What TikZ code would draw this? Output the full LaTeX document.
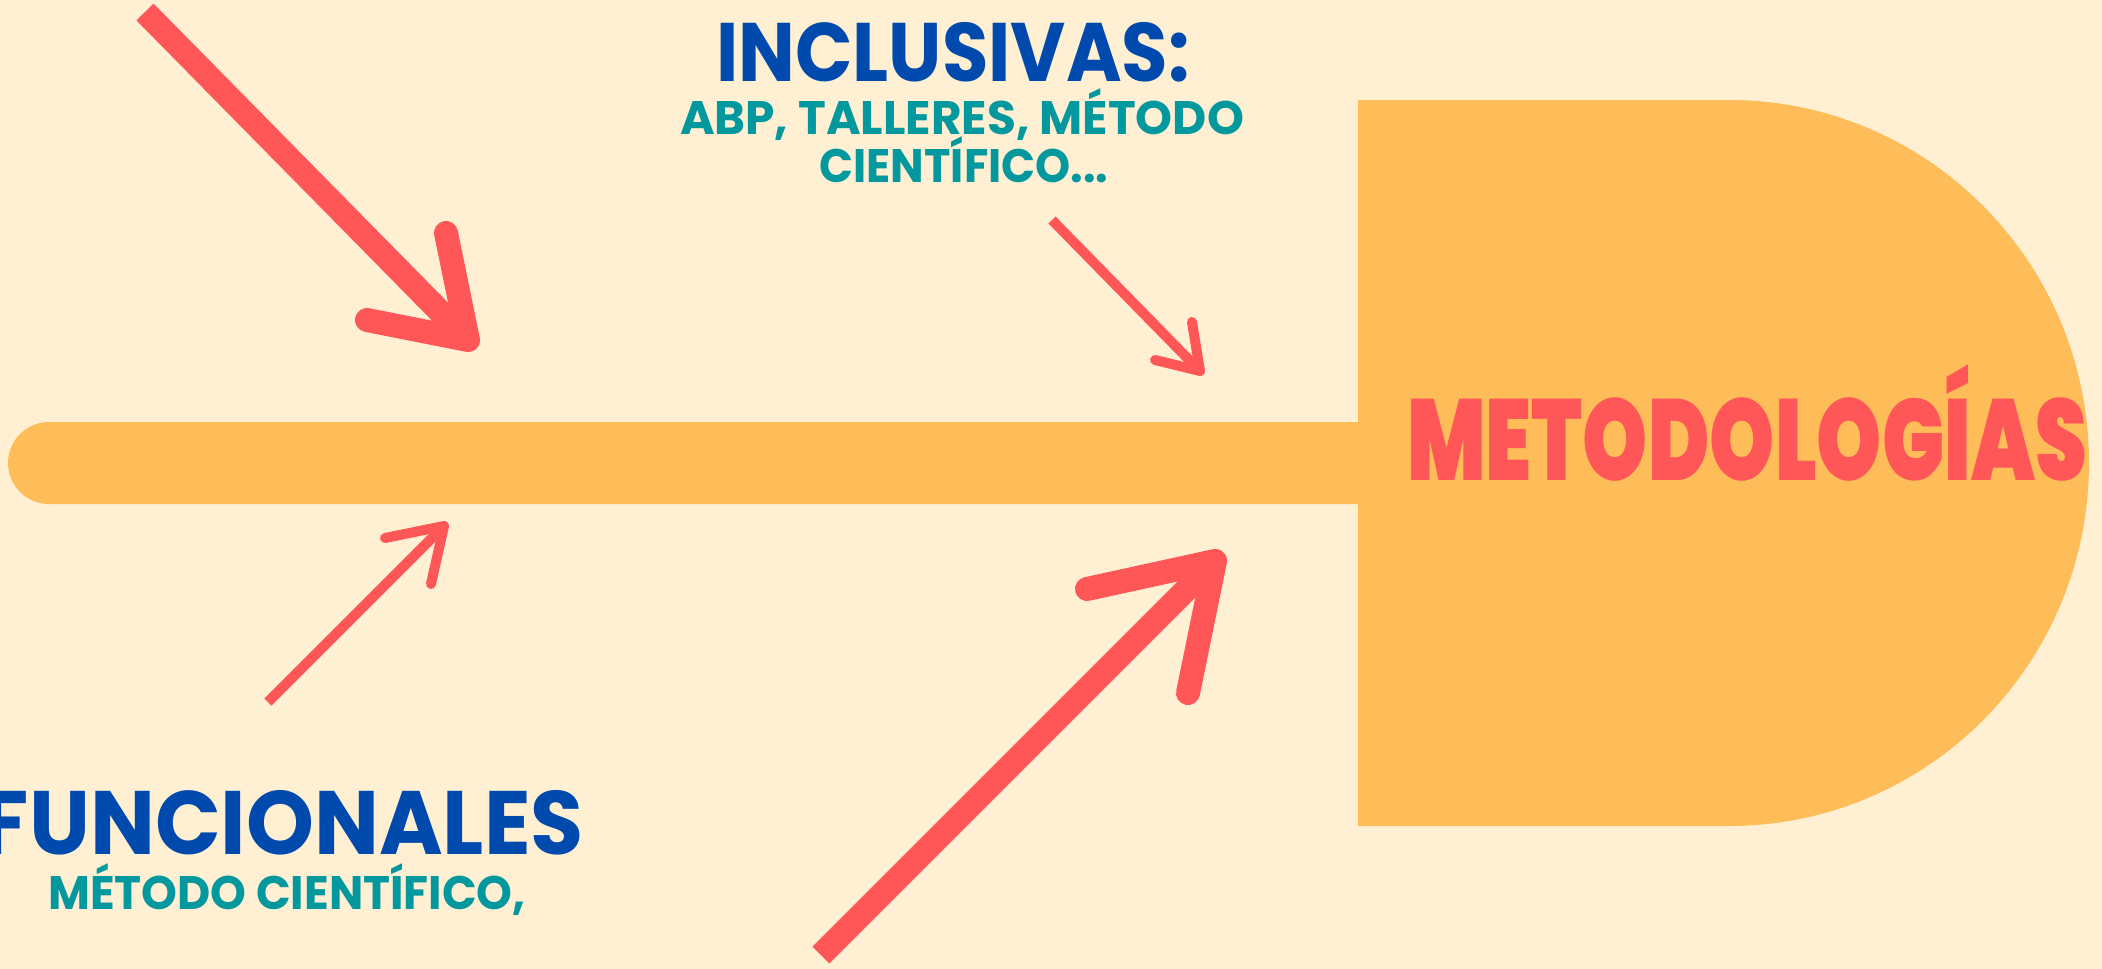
\documentclass[tikz,border=0pt]{standalone}
\usepackage{fontspec}
\setmainfont{Poppins}
\newfontfamily\titlefont{Poppins}[UprightFont=* Black]
\usepackage{graphicx}
\usetikzlibrary{calc}
\definecolor{bgc}{HTML}{FFF0D4}
\definecolor{orangec}{HTML}{FEBD59}
\definecolor{coralc}{HTML}{FF5757}
\definecolor{bluec}{HTML}{004AAD}
\definecolor{tealc}{HTML}{03989E}
\tikzset{
  shaftline/.style={draw=coralc,line cap=butt},
  barbline/.style={draw=coralc,line cap=round,line join=round},
  bigarrow/.style={line width=24pt},
  smallarrow/.style={line width=10pt},
  txt/.style={inner sep=0pt,anchor=base,font=\bfseries},
}
\begin{document}
\begin{tikzpicture}[x=1pt,y=-1pt]
\useasboundingbox (0,0) rectangle (2102,969);
\fill[bgc] (0,0) rectangle (2102,969);
% spine
\fill[orangec,rounded corners=41pt] (1450,422) -- (8,422) -- (8,504) -- (1450,504) -- cycle;
% head
\fill[orangec] (1358,100) -- (1729,100) arc[start angle=-90,end angle=90,x radius=360,y radius=363] -- (1358,826) -- cycle;
% title
\node[inner sep=0pt,anchor=base,text=coralc] (title) at (1747,480) {\fontsize{115}{115}\titlefont\scalebox{0.72}[1]{METODOLOGÍAS}};
% texts
\node[txt,text=bluec] (inc) at (953,81) {\fontsize{83}{83}\selectfont\scalebox{0.91}[1]{INCLUSIVAS:}};
\node[txt,text=tealc] (inca) at (962,134) {\fontsize{47}{47}\selectfont ABP, TALLERES, MÉTODO};
\node[txt,text=tealc] (incb) at (964,182) {\fontsize{47}{47}\selectfont\scalebox{0.95}[1]{CIENTÍFICO...}};
\node[txt,text=bluec] (fun) at (283,854) {\fontsize{90}{90}\selectfont\scalebox{0.96}[1]{FUNCIONALES}};
\node[txt,text=tealc] (funa) at (287,909) {\fontsize{47}{47}\selectfont\scalebox{0.97}[1]{MÉTODO CIENTÍFICO,}};
% arrows: top-left big
\coordinate (a1s) at (145,12);
\coordinate (a1t) at (468,340);
\coordinate (a1b) at (446,233);
\coordinate (a1c) at (367,320);
\draw[shaftline,bigarrow] (a1s) -- ($(a1s)!0.96!(a1t)$);
\draw[barbline,bigarrow] (a1b) -- (a1t) -- (a1c);
% top-right small
\coordinate (a2s) at (1052,220);
\coordinate (a2t) at (1200,371);
\coordinate (a2b) at (1192,322);
\coordinate (a2c) at (1155,360);
\draw[shaftline,smallarrow] (a2s) -- ($(a2s)!0.96!(a2t)$);
\draw[barbline,smallarrow] (a2b) -- (a2t) -- (a2c);
% bottom-left small
\coordinate (a3s) at (268,702);
\coordinate (a3t) at (444,526);
\coordinate (a3b) at (431,584);
\coordinate (a3c) at (385,538);
\draw[shaftline,smallarrow] (a3s) -- ($(a3s)!0.96!(a3t)$);
\draw[barbline,smallarrow] (a3b) -- (a3t) -- (a3c);
% bottom-right big
\coordinate (a4s) at (821,955);
\coordinate (a4t) at (1215,561);
\coordinate (a4b) at (1188,693);
\coordinate (a4c) at (1087,589);
\draw[shaftline,bigarrow] (a4s) -- ($(a4s)!0.96!(a4t)$);
\draw[barbline,bigarrow] (a4b) -- (a4t) -- (a4c);
\end{tikzpicture}
\end{document}
